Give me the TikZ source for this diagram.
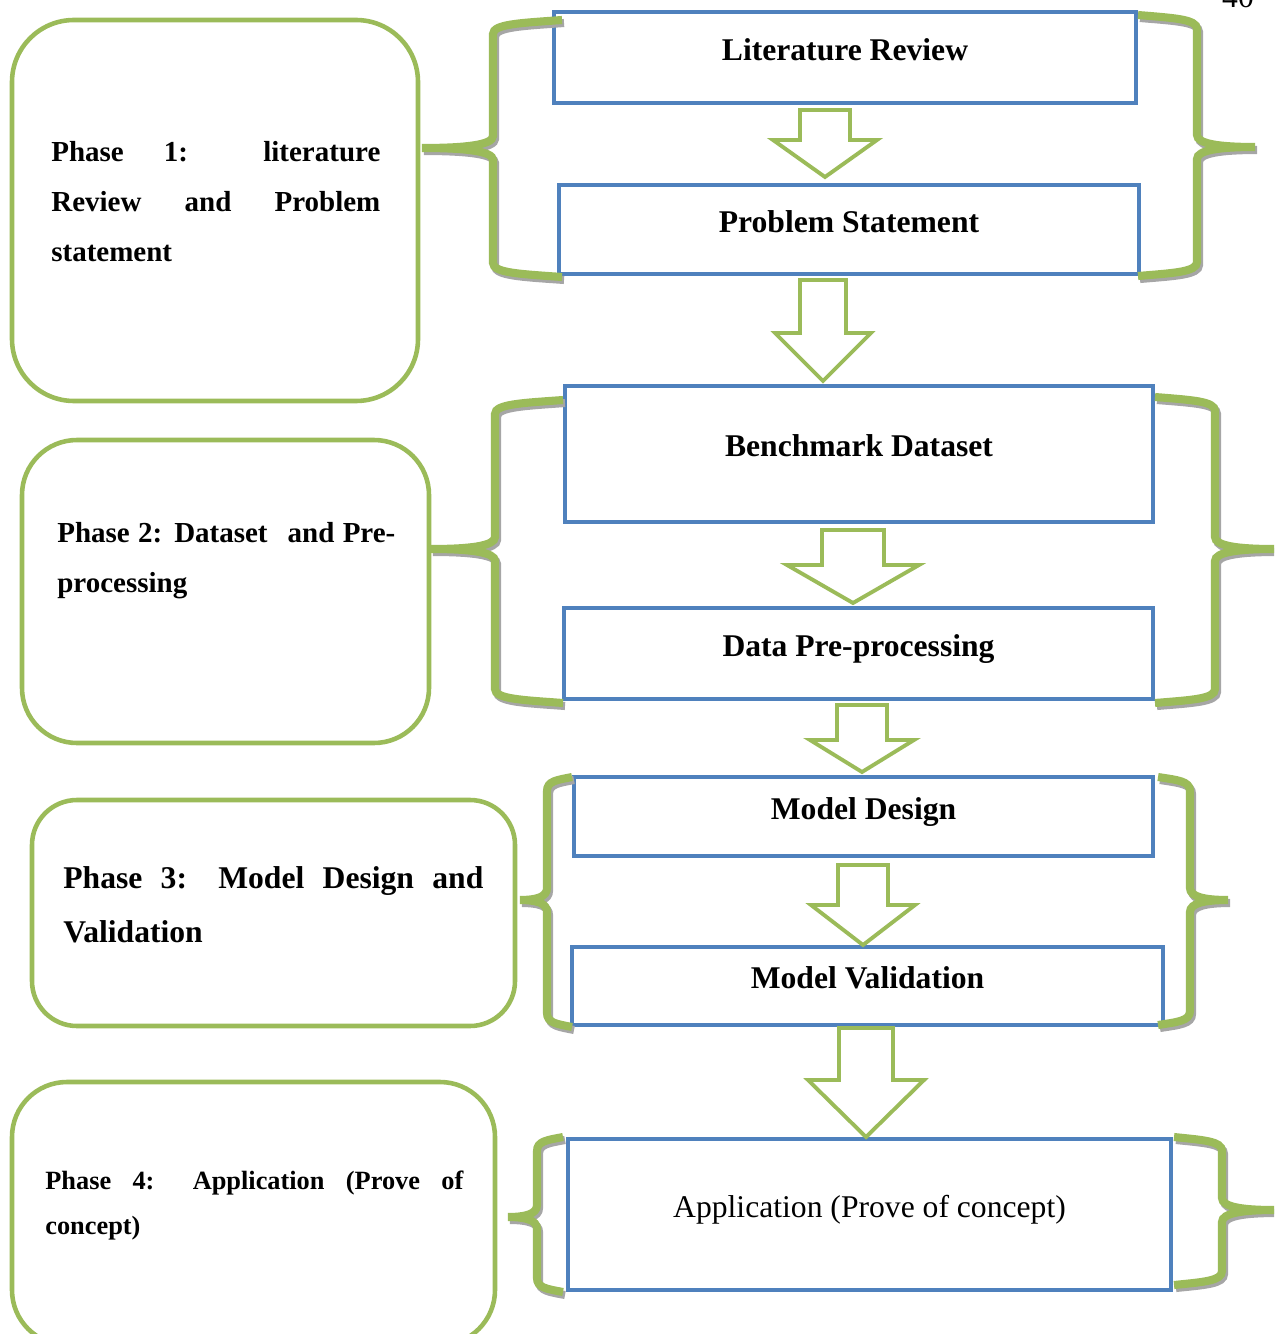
\documentclass[tikz,border=0pt]{standalone}
\usepackage{fontspec}
\setmainfont{Liberation Serif}
\usepackage{tikz}
\tikzstyle{canvas} = [x = 0.02cm, y = -0.02cm]
\definecolor{phaseGreen}{RGB}{155,187,89}
\definecolor{stageBlue}{RGB}{79,129,189}
\definecolor{shadowGray}{RGB}{166,166,166}
\tikzstyle{stageStyle} = [color=stageBlue, line width=2.8pt]
\tikzstyle{stageText} = [color=black, font=\fontsize{18}{22}\selectfont\bfseries, midway, anchor=base, yshift=-1.7pt]
\tikzstyle{phaseStyle} = [color=phaseGreen, line width=2.6pt]
\tikzstyle{phaseText} = [color=black, anchor=base west, inner sep=0pt, align=justify]
\tikzstyle{arrowStyle} = [draw=phaseGreen, fill=white, line width=2.2pt, miter limit=4]
\tikzstyle{braceLine} = [color=phaseGreen, line width=4.6pt]
\tikzstyle{braceShadow} = [color=shadowGray, line width=4.6pt, shift={(2,3)}]
\tikzstyle{pageNumber} = [font=\fontsize{18}{22}\selectfont, anchor=base, inner sep=0pt]
\newcommand{\px}{0.02cm}
\newcommand{\stageBox}[6]{\draw [stageStyle] (#1, #2) rectangle (#3, #4) node [stageText] (#5) {#6};}
\newcommand{\phaseBox}[5]{\draw [phaseStyle, rounded corners = #5] (#1, #2) rectangle (#3, #4);}
\newcommand{\stageArrow}[6]{\filldraw [arrowStyle] (#1 - #5, #2) -- (#1 + #5, #2) -- (#1 + #5, #3) -- (#1 + #6, #3) -- (#1, #4) -- (#1 - #6, #3) -- (#1 - #5, #3) -- cycle;}
\newcommand{\bracePath}[6]{(#1, #3) .. controls (\kneeX, #3 + 3) and (#2, #3 + 4) .. (#2, #3 + 14) -- (#2, #6 - 12) .. controls (#2, #6 - 3) and (\cuspX, #6) .. (#5, #6) .. controls (\cuspX, #6) and (#2, #6 + 3) .. (#2, #6 + 12) -- (#2, #4 - 14) .. controls (#2, #4 - 4) and (\kneeX, #4 - 3) .. (#1, #4)}
\newcommand{\phaseBrace}[6]{
  \pgfmathsetmacro{\kneeX}{#2 + 0.4 * (#1 - #2)}
  \pgfmathsetmacro{\cuspX}{#2 + 0.4 * (#5 - #2)}
  \draw [braceShadow] \bracePath{#1}{#2}{#3}{#4}{#5}{#6};
  \draw [braceLine] \bracePath{#1}{#2}{#3}{#4}{#5}{#6};
}

\begin{document}
\begin{tikzpicture}[canvas]
  \useasboundingbox (0, 0) rectangle (1274, 1334);
  \clip (0, 0) rectangle (1274, 1334);

  \node [pageNumber] (pageNo) at (1238, 8) {40};

  \phaseBox{12}{20}{418}{401}{1.24cm}
  \phaseBox{22}{440}{429}{743}{1.1cm}
  \phaseBox{32}{800}{515}{1026}{0.9cm}
  \phaseBox{12}{1082}{495}{1345}{1.1cm}

  \node [phaseText, text width = 329*\px, font=\fontsize{16.5}{28.4}\selectfont\bfseries] (phaseOne) at (51, 162) {Phase 1: literature\linebreak Review and Problem\linebreak statement};
  \node [phaseText, text width = 338*\px, font=\fontsize{16.5}{28.9}\selectfont\bfseries] (phaseTwo) at (57, 542) {Phase 2: Dataset\hspace{0.4em} and Pre-\linebreak processing};
  \node [phaseText, text width = 420*\px, font=\fontsize{18}{31.2}\selectfont\bfseries] (phaseThree) at (63, 888) {Phase 3: Model Design and\linebreak Validation};
  \node [phaseText, text width = 418*\px, font=\fontsize{15}{26.1}\selectfont\bfseries] (phaseFour) at (45, 1189) {Phase 4: Application (Prove of\linebreak concept)};

  \stageBox{554}{12}{1136}{103}{litReview}{Literature Review}
  \stageBox{559}{185}{1139}{274}{problem}{Problem Statement}
  \stageBox{565}{386}{1153}{522}{benchmark}{Benchmark Dataset}
  \stageBox{564}{608}{1153}{699}{preprocess}{Data Pre-processing}
  \stageBox{574}{777}{1153}{856}{modelDesign}{Model Design}
  \stageBox{572}{947}{1163}{1025}{modelValid}{Model Validation}
  \stageBox{568}{1139}{1171}{1290}{application}{\mdseries Application (Prove of concept)}

  \stageArrow{825}{110}{140}{177}{25}{52}
  \stageArrow{823}{280}{333}{381}{23}{48}
  \stageArrow{853}{530}{565}{603}{31}{66}
  \stageArrow{862}{705}{740}{772}{25}{52}
  \stageArrow{863}{865}{905}{945}{25}{52}
  \stageArrow{866}{1028}{1080}{1137}{27}{58}

  \phaseBrace{562}{493}{20}{277}{422}{148}
  \phaseBrace{1138}{1197}{15}{276}{1255}{147}
  \phaseBrace{563}{495}{400}{703}{431}{549}
  \phaseBrace{1155}{1215}{397}{703}{1274}{549}
  \phaseBrace{572}{547}{777}{1027}{520}{900}
  \phaseBrace{1158}{1190}{777}{1025}{1228}{900}
  \phaseBrace{563}{537}{1137}{1292}{508}{1217}
  \phaseBrace{1174}{1222}{1137}{1285}{1274}{1210}
\end{tikzpicture}
\end{document}
